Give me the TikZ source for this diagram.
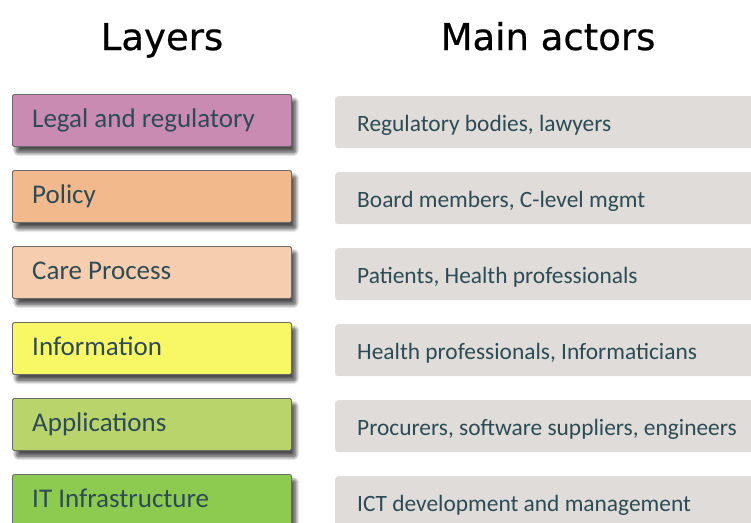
\documentclass[tikz,border=0pt]{standalone}
\usepackage{fontspec}
\setmainfont{Carlito}
\newfontfamily\titlefont[FakeBold=0.6]{DejaVu Sans}
\usetikzlibrary{shadows.blur,calc}
\definecolor{legalc}{HTML}{C98BB2}
\definecolor{policyc}{HTML}{F2B98D}
\definecolor{carec}{HTML}{F7CDB0}
\definecolor{infoc}{HTML}{F8F766}
\definecolor{appc}{HTML}{BAD46C}
\definecolor{itc}{HTML}{8DCB50}
\definecolor{actorc}{HTML}{DFDCD9}
\definecolor{edgec}{HTML}{6A6A6A}
\definecolor{txtc}{HTML}{2D4B55}
\tikzset{
  layerbox/.style={draw=edgec, line width=0.9pt, rounded corners=1.5pt,
    minimum width=279pt, minimum height=52pt, inner sep=0pt, anchor=north west,
    blur shadow={shadow xshift=6pt, shadow yshift=-9pt, shadow blur radius=8pt, shadow blur steps=15, shadow opacity=60},
    blur shadow={shadow xshift=4pt, shadow yshift=-6pt, shadow blur radius=4pt, shadow blur steps=10, shadow opacity=45}},
  actorbox/.style={fill=actorc, rounded corners=3pt, minimum width=440pt,
    minimum height=52pt, inner sep=0pt, anchor=north west},
  layertext/.style={anchor=base west, inner sep=0pt, text=txtc, font=\fontsize{27}{30}\selectfont},
  actortext/.style={anchor=base west, inner sep=0pt, text=txtc, font=\fontsize{23.4}{26}\selectfont},
  titletext/.style={anchor=base, inner sep=0pt, text=black, font=\titlefont\fontsize{37}{42}\selectfont}
}
\begin{document}
\begin{tikzpicture}[x=1pt,y=-1pt]
\useasboundingbox (0,0) rectangle (751,522);
\clip (0,0) rectangle (751,522);
\node[titletext] (tl) at (162,50) {Layers};
\node[titletext] (ta) at (548,50) {Main actors};
\foreach \i/\col/\lay/\act in {
  0/legalc/Legal and regulatory/{Regulatory bodies, lawyers},
  1/policyc/Policy/{Board members, C-level mgmt},
  2/carec/Care Process/{Patients, Health professionals},
  3/infoc/Information/{Health professionals, Informaticians},
  4/appc/Applications/{Procurers, software suppliers, engineers},
  5/itc/IT Infrastructure/{ICT development and management}}{
  \node[layerbox, fill=\col] (L\i) at (12,94+76*\i) {};
  \node[layertext] (LT\i) at ($(L\i.north west)+(20,33)$) {\lay};
  \node[actorbox] (A\i) at (335,96+76*\i) {};
  \node[actortext] (AT\i) at ($(A\i.north west)+(22,35)$) {\act};
}
\end{tikzpicture}
\end{document}
